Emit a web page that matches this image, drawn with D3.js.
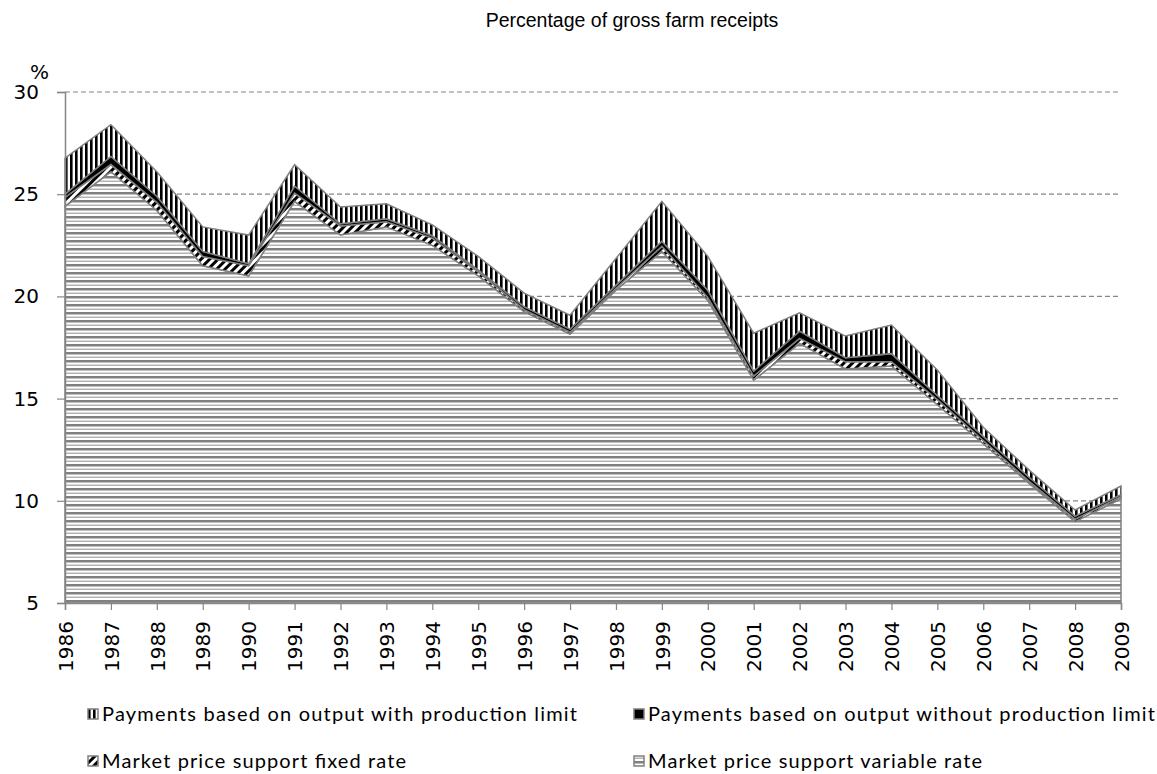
<!DOCTYPE html>
<html>
<head>
<meta charset="utf-8">
<script src="https://cdn.jsdelivr.net/npm/d3@7"></script>
<style>
body { margin: 0; background: #fff; }
svg { display: block; }
</style>
</head>
<body>
<svg id="chart" width="1157" height="774"></svg>
<script>
var years = [1986, 1987, 1988, 1989, 1990, 1991, 1992, 1993, 1994, 1995, 1996, 1997,
             1998, 1999, 2000, 2001, 2002, 2003, 2004, 2005, 2006, 2007, 2008, 2009];

// % of gross farm receipts, stacked bottom to top
var mpsVariable     = [24.4, 26.1, 24.2, 21.5, 21.0, 24.65, 23.0, 23.4, 22.5, 21.0, 19.25, 18.15,
                       20.3, 22.2, 19.8, 15.9, 17.7, 16.45, 16.6, 14.7, 12.8, 10.85, 8.98, 10.1];
var mpsFixed        = [0.45, 0.35, 0.4, 0.45, 0.5, 0.4, 0.45, 0.25, 0.35, 0.2, 0.1, 0.1,
                       0.1, 0.25, 0.15, 0.2, 0.25, 0.35, 0.2, 0.25, 0.15, 0.1, 0.12, 0.1];
var outputNoLimit   = [0.15, 0.4, 0.3, 0.25, 0.1, 0.35, 0.1, 0.15, 0.12, 0.1, 0.15, 0.15,
                       0.15, 0.25, 0.35, 0.25, 0.35, 0.2, 0.4, 0.2, 0.2, 0.2, 0.15, 0.1];
var outputWithLimit = [1.77, 1.55, 1.2, 1.2, 1.4, 1.04, 0.82, 0.73, 0.53, 0.66, 0.66, 0.68,
                       1.3, 1.95, 1.66, 1.85, 0.9, 1.06, 1.4, 1.25, 0.45, 0.35, 0.3, 0.42];

var seriesKeys   = ["variable", "fixed", "noLimit", "withLimit"];
var seriesLabels = {
    withLimit: "Payments based on output with production limit",
    noLimit:   "Payments based on output without production limit",
    fixed:     "Market price support fixed rate",
    variable:  "Market price support variable rate"
};
var yTicks = [5, 10, 15, 20, 25, 30];
var gridTicks = [10, 15, 20, 25, 30];

var chart = {};

function initialise() {
    chart.svg = d3.select("#chart");
    chart.x = d3.scaleLinear().domain([1986, 2009]).range([65, 1121]);
    chart.y = d3.scaleLinear().domain([5, 30]).range([603, 92]).clamp(true);
    chart.fills = {
        variable: "url(#hstripe)",
        fixed: "url(#diag)",
        noLimit: "#000",
        withLimit: "url(#vstripe)"
    };

    makePatterns();
    drawGrid();
    drawAreas();
    drawAxes();
    drawLabels();
    drawLegend();
}

function makePatterns() {
    var defs = chart.svg.append("defs");

    var h = defs.append("pattern").attr("id", "hstripe")
        .attr("patternUnits", "userSpaceOnUse").attr("width", 8).attr("height", 8);
    h.append("rect").attr("width", 8).attr("height", 8).attr("fill", "#fff");
    h.append("rect").attr("y", 0).attr("width", 8).attr("height", 2.5).attr("fill", "#808080");
    h.append("rect").attr("y", 4.5).attr("width", 8).attr("height", 1.5).attr("fill", "#b4b4b4");

    var v = defs.append("pattern").attr("id", "vstripe")
        .attr("patternUnits", "userSpaceOnUse").attr("width", 5).attr("height", 5);
    v.append("rect").attr("width", 5).attr("height", 5).attr("fill", "#fff");
    v.append("rect").attr("x", 0).attr("width", 2.6).attr("height", 5).attr("fill", "#000");

    var d = defs.append("pattern").attr("id", "diag")
        .attr("patternUnits", "userSpaceOnUse").attr("width", 6).attr("height", 6)
        .attr("patternTransform", "rotate(45)");
    d.append("rect").attr("width", 6).attr("height", 6).attr("fill", "#fff");
    d.append("rect").attr("width", 3).attr("height", 6).attr("fill", "#000");
}

function drawGrid() {
    chart.svg.append("g").attr("class", "grid")
        .selectAll("line")
        .data(gridTicks)
        .enter().append("line")
        .attr("x1", chart.x(1986)).attr("x2", chart.x(2009))
        .attr("y1", d => chart.y(d)).attr("y2", d => chart.y(d))
        .attr("stroke", "#868686").attr("stroke-width", 1.2)
        .attr("stroke-dasharray", "5,3");
}

function drawAreas() {
    var rows = years.map(function(yr, i) {
        return {
            year: yr,
            variable: mpsVariable[i],
            fixed: mpsFixed[i],
            noLimit: outputNoLimit[i],
            withLimit: outputWithLimit[i]
        };
    });

    var stacked = d3.stack().keys(seriesKeys)(rows);

    var area = d3.area()
        .x(d => chart.x(d.data.year))
        .y0(d => chart.y(d[0]))
        .y1(d => chart.y(d[1]));

    chart.svg.append("g").attr("class", "areas")
        .selectAll("path")
        .data(stacked)
        .enter().append("path")
        .attr("d", area)
        .attr("fill", d => chart.fills[d.key])
        .attr("stroke", "#808080")
        .attr("stroke-width", 1.5)
        .attr("stroke-linejoin", "miter");
}

function drawAxes() {
    var yAxis = d3.axisLeft(chart.y).tickValues(yTicks).tickSize(8).tickPadding(18)
        .tickFormat(d3.format("d"));
    var gy = chart.svg.append("g").attr("class", "y-axis")
        .attr("transform", "translate(" + chart.x(1986) + ",0)")
        .call(yAxis);
    gy.select(".domain").attr("stroke", "#868686").attr("stroke-width", 1.5);
    gy.selectAll(".tick line").attr("stroke", "#868686").attr("stroke-width", 1.2);
    gy.selectAll("text")
        .attr("font-family", "DejaVu Sans").attr("font-size", 20).attr("fill", "#000");

    var xAxis = d3.axisBottom(chart.x).tickValues(years).tickSize(7)
        .tickFormat(d3.format("d"));
    var gx = chart.svg.append("g").attr("class", "x-axis")
        .attr("transform", "translate(0," + chart.y(5) + ")")
        .call(xAxis);
    gx.select(".domain").attr("stroke", "#868686").attr("stroke-width", 1.5);
    gx.selectAll(".tick line").attr("stroke", "#868686").attr("stroke-width", 1.2);
    gx.selectAll("text")
        .attr("font-family", "DejaVu Sans").attr("font-size", 20).attr("fill", "#000")
        .attr("transform", "rotate(-90)")
        .attr("text-anchor", "end")
        .attr("x", -18).attr("y", 0).attr("dy", "0.36em");
}

function drawLabels() {
    chart.svg.append("text")
        .attr("x", 632).attr("y", 27)
        .attr("text-anchor", "middle")
        .attr("font-family", "Liberation Sans").attr("font-size", 19.5)
        .text("Percentage of gross farm receipts");

    chart.svg.append("text")
        .attr("x", 30).attr("y", 79)
        .attr("font-family", "DejaVu Sans").attr("font-size", 20)
        .text("%");
}

function drawLegend() {
    var items = [
        { key: "withLimit", x: 88, y: 714, w: 475 },
        { key: "noLimit", x: 634, y: 714, w: 507 },
        { key: "fixed", x: 88, y: 761, w: 304 },
        { key: "variable", x: 634, y: 761, w: 334 }
    ];

    var g = chart.svg.append("g").attr("class", "legend")
        .selectAll("g.item")
        .data(items)
        .enter().append("g").attr("class", "item")
        .attr("transform", d => "translate(" + d.x + "," + d.y + ")");

    g.append("rect")
        .attr("x", 0).attr("y", -5).attr("width", 10).attr("height", 10)
        .attr("fill", d => chart.fills[d.key])
        .attr("stroke", "#808080").attr("stroke-width", 1.5);

    g.append("text")
        .attr("x", 14).attr("dy", "0.35em")
        .attr("font-family", "Lato").attr("font-size", 20)
        .attr("textLength", d => d.w).attr("lengthAdjust", "spacing")
        .text(d => seriesLabels[d.key]);
}

initialise();
</script>
</body>
</html>
